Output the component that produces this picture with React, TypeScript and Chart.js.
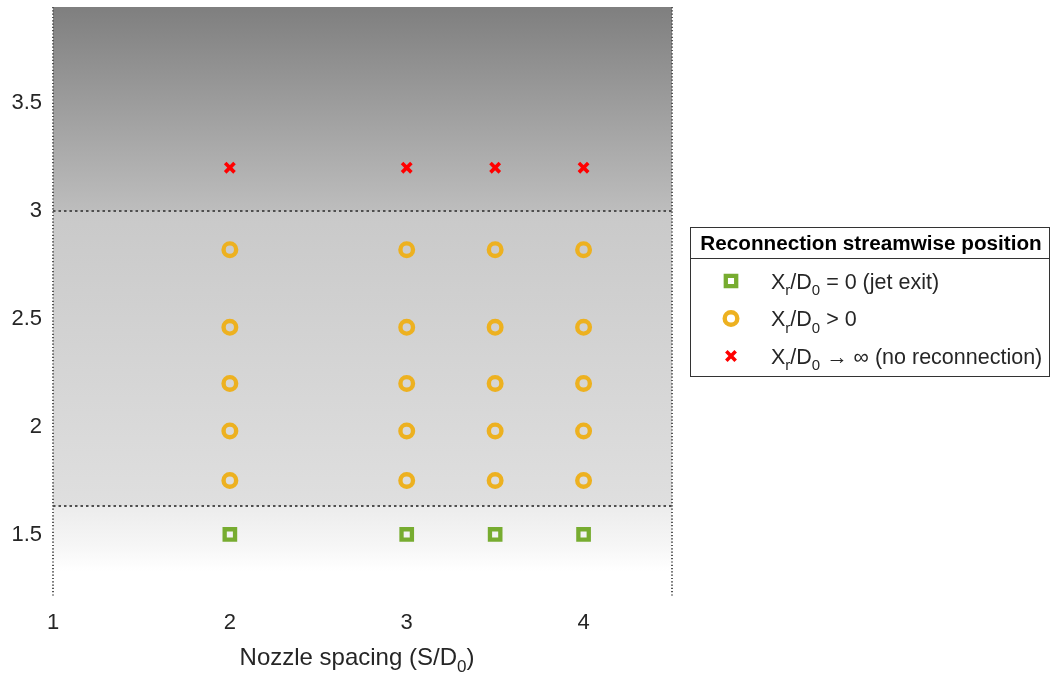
import React, { useEffect, useRef } from 'react';
import { Chart, registerables } from 'chart.js';

Chart.register(...registerables);

// ---- data ----
const spacings = [2, 3, 3.5, 4];
const exitLevels = [1.5];
const reconnectLevels = [1.75, 1.98, 2.2, 2.46, 2.82];
const noReconnectLevels = [3.2];
const xTicks = [1, 2, 3, 4];
const yTicks = [1.5, 2, 2.5, 3, 3.5];
const regimeBounds = [1.63, 3];
const xRange = [1, 4.5];
const yRange = [1.21, 3.945];
const legendTitle = 'Reconnection streamwise position';
const xTitle = [{ t: 'Nozzle spacing (S/D' }, { t: '0', sub: true }, { t: ')' }];
const seriesLabels = [
  [{ t: 'X' }, { t: 'r', sub: true }, { t: '/D' }, { t: '0', sub: true }, { t: ' = 0 (jet exit)' }],
  [{ t: 'X' }, { t: 'r', sub: true }, { t: '/D' }, { t: '0', sub: true }, { t: ' > 0' }],
  [{ t: 'X' }, { t: 'r', sub: true }, { t: '/D' }, { t: '0', sub: true }, { t: ' \u2192 \u221E (no reconnection)' }],
];
// background gradient stops: [value, color]
const bgStops: [number, string][] = [
  [1.21, '#ffffff'],
  [1.33, '#ffffff'],
  [1.45, '#f6f6f6'],
  [1.6299, '#ececec'],
  [1.6301, '#dfdfdf'],
  [2.9999, '#c9c9c9'],
  [3.0001, '#bdbdbd'],
  [3.945, '#7f7f7f'],
];

const FONT = '"Liberation Sans", Arial, Helvetica, sans-serif';
const TEXT = '#262626';
const PLOT_TOP = 7;
const PLOT_BOTTOM = 597;

const grid = (levels: number[]) => spacings.flatMap((x) => levels.map((y) => ({ x, y })));

const styles = [
  { pointStyle: 'rect', radius: 7.35, borderWidth: 4.3, color: '#77AC30' },
  { pointStyle: 'circle', radius: 6.3, borderWidth: 4.4, color: '#EDB120' },
  { pointStyle: 'crossRot', radius: 6.6, borderWidth: 3.6, color: '#FF0000' },
];

function drawSegments(ctx: CanvasRenderingContext2D, segs: any[], x: number, y: number, size: number, subSize: number, subDy: number, align: 'left' | 'center') {
  const mainF = `${size}px ${FONT}`;
  const subF = `${subSize}px ${FONT}`;
  let total = 0;
  for (const s of segs) {
    ctx.font = s.sub ? subF : mainF;
    total += ctx.measureText(s.t).width;
  }
  let cx = align === 'center' ? x - total / 2 : x;
  ctx.textAlign = 'left';
  ctx.textBaseline = 'alphabetic';
  for (const s of segs) {
    ctx.font = s.sub ? subF : mainF;
    ctx.fillText(s.t, cx, s.sub ? y + subDy : y);
    cx += ctx.measureText(s.t).width;
  }
}

function drawMarker(ctx: CanvasRenderingContext2D, kind: number, x: number, y: number) {
  const st = styles[kind];
  ctx.save();
  ctx.strokeStyle = st.color;
  ctx.lineWidth = st.borderWidth;
  ctx.beginPath();
  if (st.pointStyle === 'rect') {
    const h = st.radius * Math.SQRT1_2;
    ctx.rect(x - h, y - h, 2 * h, 2 * h);
  } else if (st.pointStyle === 'circle') {
    ctx.arc(x, y, st.radius, 0, Math.PI * 2);
  } else {
    const o = st.radius * Math.SQRT1_2;
    ctx.moveTo(x - o, y - o);
    ctx.lineTo(x + o, y + o);
    ctx.moveTo(x - o, y + o);
    ctx.lineTo(x + o, y - o);
  }
  ctx.stroke();
  ctx.restore();
}

const decorPlugin = {
  id: 'decor',
  beforeDatasetsDraw(chart: any) {
    const { ctx, chartArea: a, scales } = chart;
    const ys = scales.y;
    ctx.save();
    const g = ctx.createLinearGradient(0, a.bottom, 0, a.top);
    const span = a.bottom - a.top;
    for (const [v, c] of bgStops) {
      const off = (a.bottom - ys.getPixelForValue(v)) / span;
      g.addColorStop(Math.min(1, Math.max(0, off)), c);
    }
    ctx.fillStyle = g;
    ctx.fillRect(a.left, a.top, a.right - a.left, a.bottom - a.top);

    // regime boundaries
    ctx.strokeStyle = '#4f4f4f';
    ctx.lineWidth = 2;
    ctx.setLineDash([2.5, 3]);
    for (const v of regimeBounds) {
      const py = Math.round(ys.getPixelForValue(v));
      ctx.beginPath();
      ctx.moveTo(a.left, py);
      ctx.lineTo(a.right, py);
      ctx.stroke();
    }
    // left/right dotted axes
    ctx.strokeStyle = '#555555';
    ctx.lineWidth = 2;
    ctx.setLineDash([1.2, 2.1]);
    for (const px of [a.left, a.right]) {
      ctx.beginPath();
      ctx.moveTo(px, a.top);
      ctx.lineTo(px, a.bottom);
      ctx.stroke();
    }
    ctx.restore();
  },
  afterDraw(chart: any) {
    const { ctx } = chart;
    ctx.save();
    ctx.fillStyle = TEXT;
    drawSegments(ctx, xTitle, 357, 665, 24, 17, 7, 'center');

    // legend box
    const bx = 690.5, by = 227.5, bw = 359, bh = 149;
    ctx.fillStyle = '#ffffff';
    ctx.fillRect(bx, by, bw, bh);
    ctx.strokeStyle = '#333333';
    ctx.lineWidth = 1;
    ctx.strokeRect(bx, by, bw, bh);
    ctx.beginPath();
    ctx.moveTo(bx, 258.5);
    ctx.lineTo(bx + bw, 258.5);
    ctx.stroke();
    ctx.fillStyle = '#000000';
    ctx.font = `bold 20.7px ${FONT}`;
    ctx.textAlign = 'center';
    ctx.textBaseline = 'middle';
    ctx.fillText(legendTitle, bx + bw / 2 + 1, 244);
    const rows = [281, 318.5, 356];
    rows.forEach((ry, i) => {
      drawMarker(ctx, i, 731, ry);
      ctx.fillStyle = TEXT;
      drawSegments(ctx, seriesLabels[i], 771, ry + 7.5, 21.5, 15, 6.5, 'left');
    });
    ctx.restore();
  },
};

export default function App() {
  const ref = useRef<HTMLCanvasElement | null>(null);
  useEffect(() => {
    if (!ref.current) return;
    Chart.defaults.font.family = FONT;
    const datasets = [grid(exitLevels), grid(reconnectLevels), grid(noReconnectLevels)].map((data, i) => ({
      label: 'series' + i,
      data,
      showLine: false,
      pointStyle: styles[i].pointStyle,
      pointRadius: styles[i].radius,
      pointBorderWidth: styles[i].borderWidth,
      pointBorderColor: styles[i].color,
      pointBackgroundColor: 'rgba(0,0,0,0)',
      borderColor: styles[i].color,
      backgroundColor: 'rgba(0,0,0,0)',
    }));
    const chart = new Chart(ref.current, {
      type: 'scatter',
      data: { datasets: datasets as any },
      options: {
        animation: false,
        responsive: false,
        events: [],
        layout: { autoPadding: false, padding: { left: 0, right: 379, top: PLOT_TOP, bottom: 0 } },
        plugins: { legend: { display: false }, tooltip: { enabled: false }, title: { display: false } },
        scales: {
          x: {
            type: 'linear',
            min: xRange[0],
            max: xRange[1],
            grid: { display: false, drawTicks: false },
            border: { display: false },
            afterBuildTicks: (s: any) => { s.ticks = xTicks.map((v) => ({ value: v })); },
            afterFit: (s: any) => { s.height = 677 - PLOT_BOTTOM; s.paddingLeft = 0; s.paddingRight = 0; },
            ticks: { color: TEXT, font: { size: 22 }, padding: 13, maxRotation: 0, autoSkip: false, callback: (v: any) => String(v) },
          },
          y: {
            type: 'linear',
            min: yRange[0],
            max: yRange[1],
            grid: { display: false, drawTicks: false },
            border: { display: false },
            afterBuildTicks: (s: any) => { s.ticks = yTicks.map((v) => ({ value: v })); },
            afterFit: (s: any) => { s.width = 53; s.paddingTop = 0; s.paddingBottom = 0; },
            ticks: { color: TEXT, font: { size: 22 }, padding: 11, autoSkip: false, callback: (v: any) => String(v) },
          },
        },
      },
      plugins: [decorPlugin],
    });
    return () => chart.destroy();
  }, []);
  return (
    <div style={{ position: 'fixed', left: 0, top: 0, width: 1051, height: 677, background: '#fff' }}>
      <canvas ref={ref} width={1051} height={677} style={{ display: 'block' }} />
    </div>
  );
}
